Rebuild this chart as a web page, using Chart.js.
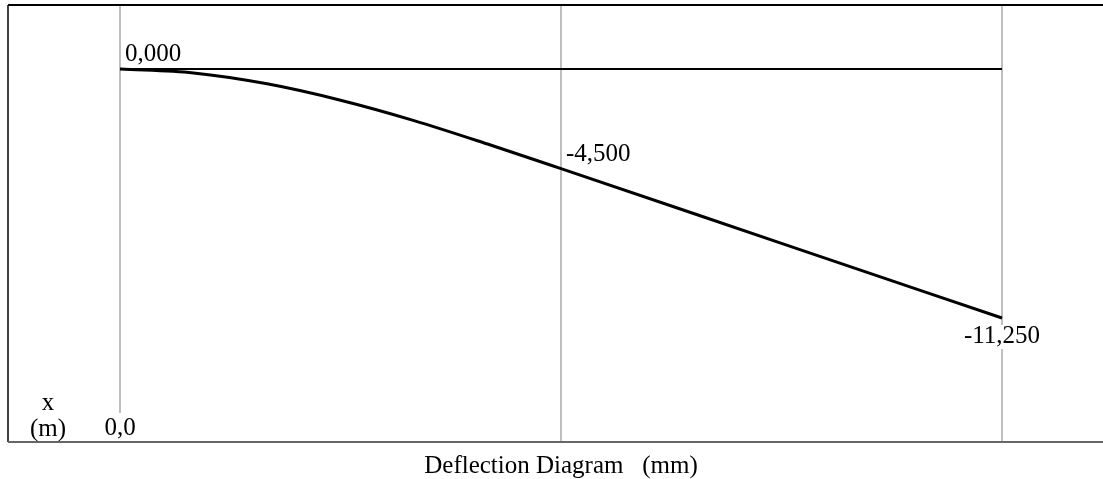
<!DOCTYPE html>
<html>
<head>
<meta charset="utf-8">
<script src="https://cdn.jsdelivr.net/npm/chart.js@4/dist/chart.umd.min.js"></script>
<style>
  html, body { margin: 0; padding: 0; background: #fff; }
  #wrap { width: 1103px; height: 479px; }
</style>
</head>
<body>
<div id="wrap"><canvas id="deflection-chart"></canvas></div>
<script>
// position along the beam (m) and deflection (mm)
var xPos = [0, 0.25, 0.5, 0.75, 1.0, 1.25, 1.5, 2.25, 3.0];
var deflection = [0, -0.18, -0.67, -1.41, -2.33, -3.39, -4.5, -7.88, -11.25];
var labelled = [0, 6, 8];          // points that carry a value label
var beamX = [0, 3.0];
var beamY = [0, 0];
var gridAt = [0, 1.5, 3.0];
var titleText = "Deflection Diagram   (mm)";

var serif = "'Liberation Serif', 'Times New Roman', serif";

function comma(v, digits) {
  return v.toFixed(digits).replace('.', ',');
}

var diagramText = {
  id: 'diagramText',
  beforeDatasetsDraw: function(chart) {
    var ctx = chart.ctx, a = chart.chartArea;
    ctx.save();
    // frame
    ctx.strokeStyle = '#000';
    ctx.lineWidth = 2;
    ctx.beginPath();
    ctx.moveTo(a.left, a.top); ctx.lineTo(a.right, a.top);
    ctx.stroke();
    ctx.lineWidth = 1.5;
    ctx.beginPath();
    ctx.moveTo(a.left, a.top); ctx.lineTo(a.left, a.bottom);
    ctx.stroke();
    ctx.strokeStyle = '#666';
    ctx.lineWidth = 2;
    ctx.beginPath();
    ctx.moveTo(a.left, a.bottom); ctx.lineTo(a.right, a.bottom);
    ctx.stroke();
    ctx.restore();
  },
  afterDatasetsDraw: function(chart) {
    var ctx = chart.ctx, a = chart.chartArea;
    var xs = chart.scales.x;
    var pts = chart.getDatasetMeta(0).data;
    ctx.save();
    ctx.font = '25px ' + serif;
    ctx.fillStyle = '#000';
    ctx.textBaseline = 'alphabetic';

    labelled.forEach(function(i, k) {
      var p = pts[i];
      var txt = comma(deflection[i], 3);
      if (k === labelled.length - 1) {
        var w = ctx.measureText(txt).width;
        ctx.fillStyle = '#fff';
        ctx.fillRect(p.x - w / 2 - 1, p.y + 7, w + 2, 24);
        ctx.fillStyle = '#000';
        ctx.textAlign = 'center';
        ctx.fillText(txt, p.x, p.y + 25);
      } else {
        ctx.textAlign = 'left';
        ctx.fillText(txt, p.x + 5, p.y - 8);
      }
    });

    // origin tick label
    var x0 = xs.getPixelForValue(0);
    var t0 = comma(0, 1);
    var w0 = ctx.measureText(t0).width;
    ctx.fillStyle = '#fff';
    ctx.fillRect(x0 - w0 / 2 - 1, a.bottom - 29, w0 + 2, 28);
    ctx.fillStyle = '#000';
    ctx.textAlign = 'center';
    ctx.fillText(t0, x0, a.bottom - 7);

    // axis name
    ctx.fillText('x', 48, a.bottom - 32);
    ctx.fillText('(m)', 48, a.bottom - 6);

    // title under the frame, centred on the mid grid line
    ctx.fillText(titleText, xs.getPixelForValue(1.5), a.bottom + 31);
    ctx.restore();
  }
};

new Chart(document.getElementById('deflection-chart'), {
  type: 'line',
  data: {
    datasets: [{
      label: 'deflection',
      data: xPos.map(function(x, i) { return { x: x, y: deflection[i] }; }),
      borderColor: '#000',
      borderWidth: 3,
      pointRadius: 0,
      cubicInterpolationMode: 'monotone',
      fill: false
    }, {
      label: 'beam',
      data: beamX.map(function(x, i) { return { x: x, y: beamY[i] }; }),
      borderColor: '#000',
      borderWidth: 2,
      pointRadius: 0,
      fill: false
    }]
  },
  options: {
    responsive: true,
    maintainAspectRatio: false,
    animation: false,
    devicePixelRatio: 1,
    layout: { padding: { left: 8, top: 5, right: 0, bottom: 37 } },
    plugins: {
      legend: { display: false },
      tooltip: { enabled: false }
    },
    scales: {
      x: {
        type: 'linear',
        min: -0.381,
        max: 3.3435,
        afterBuildTicks: function(scale) {
          scale.ticks = gridAt.map(function(v) { return { value: v }; });
        },
        ticks: { display: false },
        grid: { color: '#bfbfbf', lineWidth: 2, drawTicks: false },
        border: { display: false }
      },
      y: {
        display: false,
        min: -16.855,
        max: 2.892
      }
    }
  },
  plugins: [diagramText]
});
</script>
</body>
</html>
